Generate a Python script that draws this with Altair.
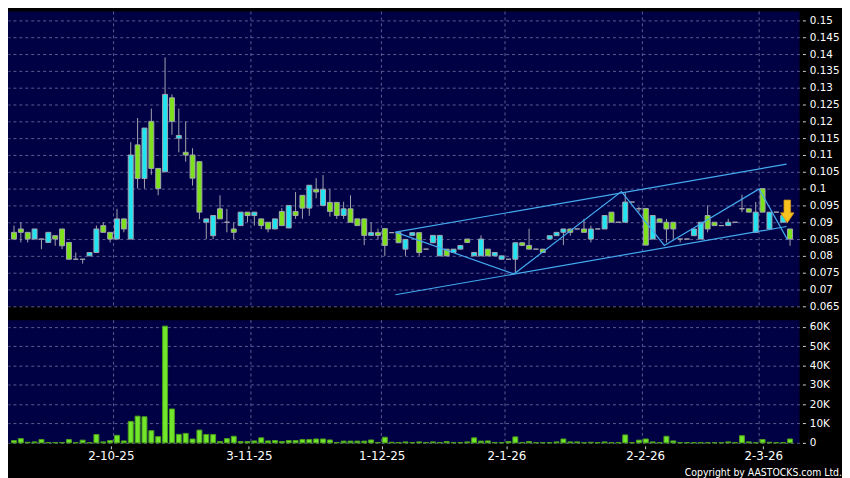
import altair as alt
import pandas as pd

# ---------------- data ----------------
OPEN = [0.087, 0.088, 0.087, 0.085, 0.085, 0.084, 0.086, 0.088, 0.084, 0.079,
        0.079, 0.080, 0.081, 0.089, 0.087, 0.085, 0.091, 0.085, 0.113, 0.103,
        0.120, 0.106, 0.105, 0.127, 0.115, 0.1108, 0.110, 0.108, 0.090, 0.086,
        0.094, 0.090, 0.088, 0.089, 0.093, 0.092, 0.091, 0.090, 0.088, 0.0932,
        0.0883, 0.0932, 0.098, 0.0942, 0.0998, 0.095, 0.0959, 0.0959, 0.092, 0.094,
        0.091, 0.091, 0.0861, 0.0869, 0.0881, 0.0869, 0.0869, 0.082, 0.0861, 0.0869,
        0.082, 0.0839, 0.080, 0.082, 0.081, 0.082, 0.085, 0.080, 0.080, 0.082,
        0.080, 0.079, 0.079, 0.079, 0.0839, 0.0831, 0.082, 0.082, 0.085, 0.086,
        0.087, 0.088, 0.088, 0.088, 0.085, 0.088, 0.088, 0.093, 0.090, 0.090,
        0.096, 0.094, 0.0941, 0.085, 0.091, 0.090, 0.090, 0.085, 0.085, 0.086,
        0.085, 0.092, 0.090, 0.089, 0.089, 0.090, 0.094, 0.094, 0.087, 0.100,
        0.088, 0.093, 0.090, 0.088]
HIGH = [0.089, 0.090, 0.087, 0.088, 0.085, 0.087, 0.086, 0.088, 0.084, 0.081,
        0.079, 0.081, 0.089, 0.090, 0.087, 0.094, 0.091, 0.1138, 0.121, 0.118,
        0.1238, 0.106, 0.139, 0.128, 0.1238, 0.120, 0.112, 0.108, 0.091, 0.092,
        0.098, 0.094, 0.090, 0.093, 0.093, 0.093, 0.091, 0.090, 0.091, 0.0942,
        0.095, 0.099, 0.098, 0.101, 0.1031, 0.104, 0.0998, 0.0959, 0.0961, 0.098,
        0.091, 0.091, 0.090, 0.0881, 0.0881, 0.0869, 0.0869, 0.0849, 0.0869, 0.0869,
        0.082, 0.0861, 0.0861, 0.082, 0.082, 0.0831, 0.085, 0.081, 0.0861, 0.082,
        0.081, 0.080, 0.079, 0.0839, 0.0839, 0.0881, 0.082, 0.082, 0.086, 0.087,
        0.088, 0.088, 0.088, 0.091, 0.089, 0.088, 0.092, 0.093, 0.090, 0.099,
        0.096, 0.0945, 0.0941, 0.092, 0.091, 0.091, 0.090, 0.085, 0.085, 0.088,
        0.090, 0.095, 0.090, 0.089, 0.091, 0.090, 0.0982, 0.094, 0.096, 0.100,
        0.093, 0.093, 0.092, 0.088]
LOW = [0.085, 0.084, 0.084, 0.085, 0.082, 0.084, 0.083, 0.082, 0.079, 0.079,
       0.0777, 0.080, 0.081, 0.087, 0.084, 0.085, 0.087, 0.085, 0.100, 0.100,
       0.1041, 0.098, 0.105, 0.116, 0.1108, 0.108, 0.1009, 0.0909, 0.085, 0.085,
       0.091, 0.087, 0.085, 0.089, 0.090, 0.089, 0.088, 0.087, 0.088, 0.089,
       0.0883, 0.091, 0.091, 0.0919, 0.0971, 0.095, 0.0917, 0.091, 0.091, 0.090,
       0.089, 0.0832, 0.0861, 0.085, 0.080, 0.0869, 0.0839, 0.080, 0.0861, 0.080,
       0.082, 0.0839, 0.080, 0.080, 0.081, 0.082, 0.084, 0.080, 0.080, 0.080,
       0.080, 0.079, 0.079, 0.075, 0.0831, 0.082, 0.082, 0.081, 0.085, 0.086,
       0.0832, 0.086, 0.088, 0.087, 0.084, 0.088, 0.088, 0.090, 0.090, 0.090,
       0.096, 0.093, 0.0832, 0.085, 0.090, 0.084, 0.085, 0.084, 0.085, 0.086,
       0.085, 0.087, 0.089, 0.089, 0.089, 0.090, 0.093, 0.093, 0.087, 0.093,
       0.088, 0.093, 0.090, 0.083]
CLOSE = [0.085, 0.087, 0.085, 0.088, 0.085, 0.087, 0.085, 0.083, 0.079, 0.079,
         0.079, 0.081, 0.088, 0.087, 0.085, 0.091, 0.088, 0.110, 0.103, 0.118,
         0.106, 0.100, 0.128, 0.120, 0.1158, 0.110, 0.1031, 0.093, 0.091, 0.092,
         0.091, 0.090, 0.087, 0.093, 0.092, 0.093, 0.089, 0.088, 0.091, 0.089,
         0.095, 0.092, 0.0942, 0.101, 0.099, 0.0998, 0.0932, 0.092, 0.094, 0.090,
         0.089, 0.0861, 0.0869, 0.0861, 0.0831, 0.0869, 0.0839, 0.0849, 0.0869, 0.081,
         0.082, 0.0861, 0.0861, 0.080, 0.082, 0.0831, 0.084, 0.081, 0.085, 0.080,
         0.081, 0.080, 0.079, 0.0839, 0.0831, 0.082, 0.082, 0.081, 0.086, 0.087,
         0.088, 0.087, 0.088, 0.087, 0.088, 0.088, 0.092, 0.090, 0.090, 0.096,
         0.096, 0.094, 0.0832, 0.092, 0.090, 0.088, 0.088, 0.085, 0.085, 0.088,
         0.090, 0.088, 0.089, 0.089, 0.090, 0.090, 0.094, 0.093, 0.093, 0.093,
         0.093, 0.093, 0.092, 0.085]
VOLUME_K = [1.2, 2.2, 0.3, 0.5, 1.7, 0.2, 0.2, 0.2, 1.7, 0.1,
            1.4, 0.1, 4.3, 0.5, 1.2, 3.9, 1.0, 11.1, 13.8, 13.5,
            6.3, 3.2, 60.3, 17.5, 4.4, 4.9, 2.0, 6.6, 4.3, 4.3,
            0.7, 2.2, 3.4, 0.7, 0.7, 1.0, 2.6, 1.0, 1.2, 0.7,
            1.2, 1.2, 1.7, 1.7, 2.0, 2.0, 1.5, 0.2, 0.9, 0.9,
            0.9, 0.9, 1.5, 0.2, 2.9, 0.3, 0.2, 0.5, 0.2, 0.5,
            0.2, 0.5, 0.2, 0.7, 0.2, 0.2, 0.5, 2.6, 0.9, 1.0,
            0.2, 0.2, 0.7, 3.1, 0.2, 0.7, 0.1, 0.1, 0.1, 0.5,
            2.0, 0.5, 0.5, 0.1, 0.3, 0.1, 0.5, 0.1, 0.1, 4.1,
            0.1, 1.4, 2.0, 0.5, 0.1, 3.4, 1.0, 0.1, 0.1, 0.1,
            0.1, 0.1, 0.1, 0.1, 0.5, 0.1, 3.7, 0.5, 0.1, 1.7,
            0.3, 0.1, 0.1, 2.0]

# month boundaries (trading-day index) and date labels
MONTH_GRID = [15.5, 35.5, 54.5, 72.5, 92.5, 109.5]
LABEL_POS = [15.1, 35.2, 54.55, 72.7, 92.9, 110.1]
LABEL_TXT = ["2-10-25", "3-11-25", "1-12-25", "2-1-26", "2-2-26", "2-3-26"]

PRICE_TICKS = [0.065, 0.07, 0.075, 0.08, 0.085, 0.09, 0.095, 0.1, 0.105, 0.11,
               0.115, 0.12, 0.125, 0.13, 0.135, 0.14, 0.145, 0.15]
VOL_TICKS = [0, 10000, 20000, 30000, 40000, 50000, 60000]

# drawn trend lines (index, price)
CHAN_UP_X = [56.54, 113.5]
CHAN_UP_P = [0.08706, 0.10726]
CHAN_LO_X = [56.54, 113.5]
CHAN_LO_P = [0.06844, 0.08874]
ZIG_X = [56.54, 73.8, 89.45, 95.7, 109.5, 113.6]
ZIG_P = [0.08706, 0.0746, 0.0991, 0.0831, 0.0999, 0.0849]

ARROW_X = [113.6]
ARROW_P = [0.0932]

COPYRIGHT = "Copyright by AASTOCKS.com Ltd."

# ---------------- styling ----------------
NAVY = "#000044"
CYAN = "#20e4f0"
GREEN = "#7de21c"
WICK = "#a4a4b0"
GRID = "#5c5c92"
LINE = "#44aaf0"
FONT = "DejaVu Sans"

n = len(OPEN)
df = pd.DataFrame({
    "i": list(range(1, n + 1)),
    "o": OPEN, "h": HIGH, "l": LOW, "c": CLOSE,
    "vol": [v * 1000 for v in VOLUME_K],
})
grid_df = pd.DataFrame({"i": MONTH_GRID})
lines_df = pd.DataFrame({
    "i": CHAN_UP_X + CHAN_LO_X + ZIG_X,
    "p": CHAN_UP_P + CHAN_LO_P + ZIG_P,
    "g": ["up"] * len(CHAN_UP_X) + ["lo"] * len(CHAN_LO_X) + ["zig"] * len(ZIG_X),
})
arrow_df = pd.DataFrame({"i": ARROW_X, "p": ARROW_P})

xscale = alt.Scale(domain=[0.85, 114.65], nice=False, zero=False)
pscale = alt.Scale(domain=[0.065, 0.15265], nice=False, zero=False)
vscale = alt.Scale(domain=[0, 63400], nice=False)

price_axis = alt.Axis(orient="right", values=PRICE_TICKS, format=".3~f", title=None,
                      grid=True, gridColor=GRID, gridDash=[3, 3], gridWidth=1,
                      domain=False, tickSize=3, tickColor="#cfcfcf", offset=3,
                      labelPadding=4, labelColor="white", labelFont=FONT,
                      labelFontSize=10.5)

label_expr = " : ".join(
    f"abs(datum.value - {p}) < 0.01 ? '{t}'" for p, t in zip(LABEL_POS, LABEL_TXT)
) + " : ''"
x_vol_axis = alt.Axis(values=LABEL_POS, labelExpr=label_expr, title=None, grid=False,
                      domain=False, tickSize=3, tickColor="#cfcfcf", offset=3,
                      labelPadding=2, labelColor="white", labelFont=FONT,
                      labelFontSize=12)
vol_axis = alt.Axis(orient="right", values=VOL_TICKS, title=None,
                    labelExpr="datum.value == 0 ? '0' : format(datum.value / 1000, 'd') + 'K'",
                    grid=True, gridColor=GRID, gridDash=[3, 3], gridWidth=1,
                    domain=False, tickSize=3, tickColor="#cfcfcf", offset=3,
                    labelPadding=4, labelColor="white", labelFont=FONT,
                    labelFontSize=10.5)

xp = alt.X("i:Q", scale=xscale, axis=None)

# ---------------- price panel ----------------
vgrid_p = alt.Chart(grid_df).mark_rule(color=GRID, strokeDash=[3, 3], strokeWidth=1).encode(x=xp)
wicks = alt.Chart(df).mark_rule(color=WICK, strokeWidth=1).encode(
    x=xp, y=alt.Y("l:Q", scale=pscale, axis=price_axis), y2="h:Q")
bodies = alt.Chart(df).mark_bar(size=5, stroke=WICK, strokeWidth=1).encode(
    x=xp, y=alt.Y("o:Q", scale=pscale, axis=price_axis), y2="c:Q",
    fill=alt.condition("datum.c > datum.o", alt.value(CYAN), alt.value(GREEN)))
trend = alt.Chart(lines_df).mark_line(color=LINE, strokeWidth=1.2).encode(
    x=xp, y=alt.Y("p:Q", scale=pscale, axis=price_axis), detail="g:N")
arrow_path = "M-0.29,-1 L0.29,-1 L0.29,0.12 L0.59,0.12 L0,1 L-0.59,0.12 L-0.29,0.12 Z"
arrow = alt.Chart(arrow_df).mark_point(shape=arrow_path, filled=True, size=530,
                                       fill="#f7c21e", stroke="#d0901a",
                                       strokeWidth=0.8, opacity=1).encode(
    x=xp, y=alt.Y("p:Q", scale=pscale, axis=price_axis))

price = alt.layer(vgrid_p, wicks, bodies, trend, arrow).properties(width=800, height=298)

# ---------------- volume panel ----------------
xv = alt.X("i:Q", scale=xscale, axis=x_vol_axis)
vgrid_v = alt.Chart(grid_df).mark_rule(color=GRID, strokeDash=[3, 3], strokeWidth=1).encode(x=xv)
vbars = alt.Chart(df).mark_bar(size=5, fill="#72e62a", stroke="#4c9e1c", strokeWidth=1).encode(
    x=xv, y=alt.Y("vol:Q", scale=vscale, axis=vol_axis))
copy_txt = alt.Chart(pd.DataFrame({"t": [COPYRIGHT]})).mark_text(
    align="right", baseline="alphabetic", color="white",
    font="DejaVu Sans Condensed, DejaVu Sans", fontSize=10.5).encode(
    text="t:N", x=alt.value(843), y=alt.value(157))

volume = alt.layer(vgrid_v, vbars, copy_txt).properties(width=800, height=124)

chart = alt.vconcat(price, volume, spacing=7).properties(
    padding={"left": 0, "top": 0, "right": 0, "bottom": 0}
).configure(background="black").configure_view(fill=NAVY, strokeWidth=0)

chart.save("out.html", embed_options={"renderer": "svg", "actions": False})
